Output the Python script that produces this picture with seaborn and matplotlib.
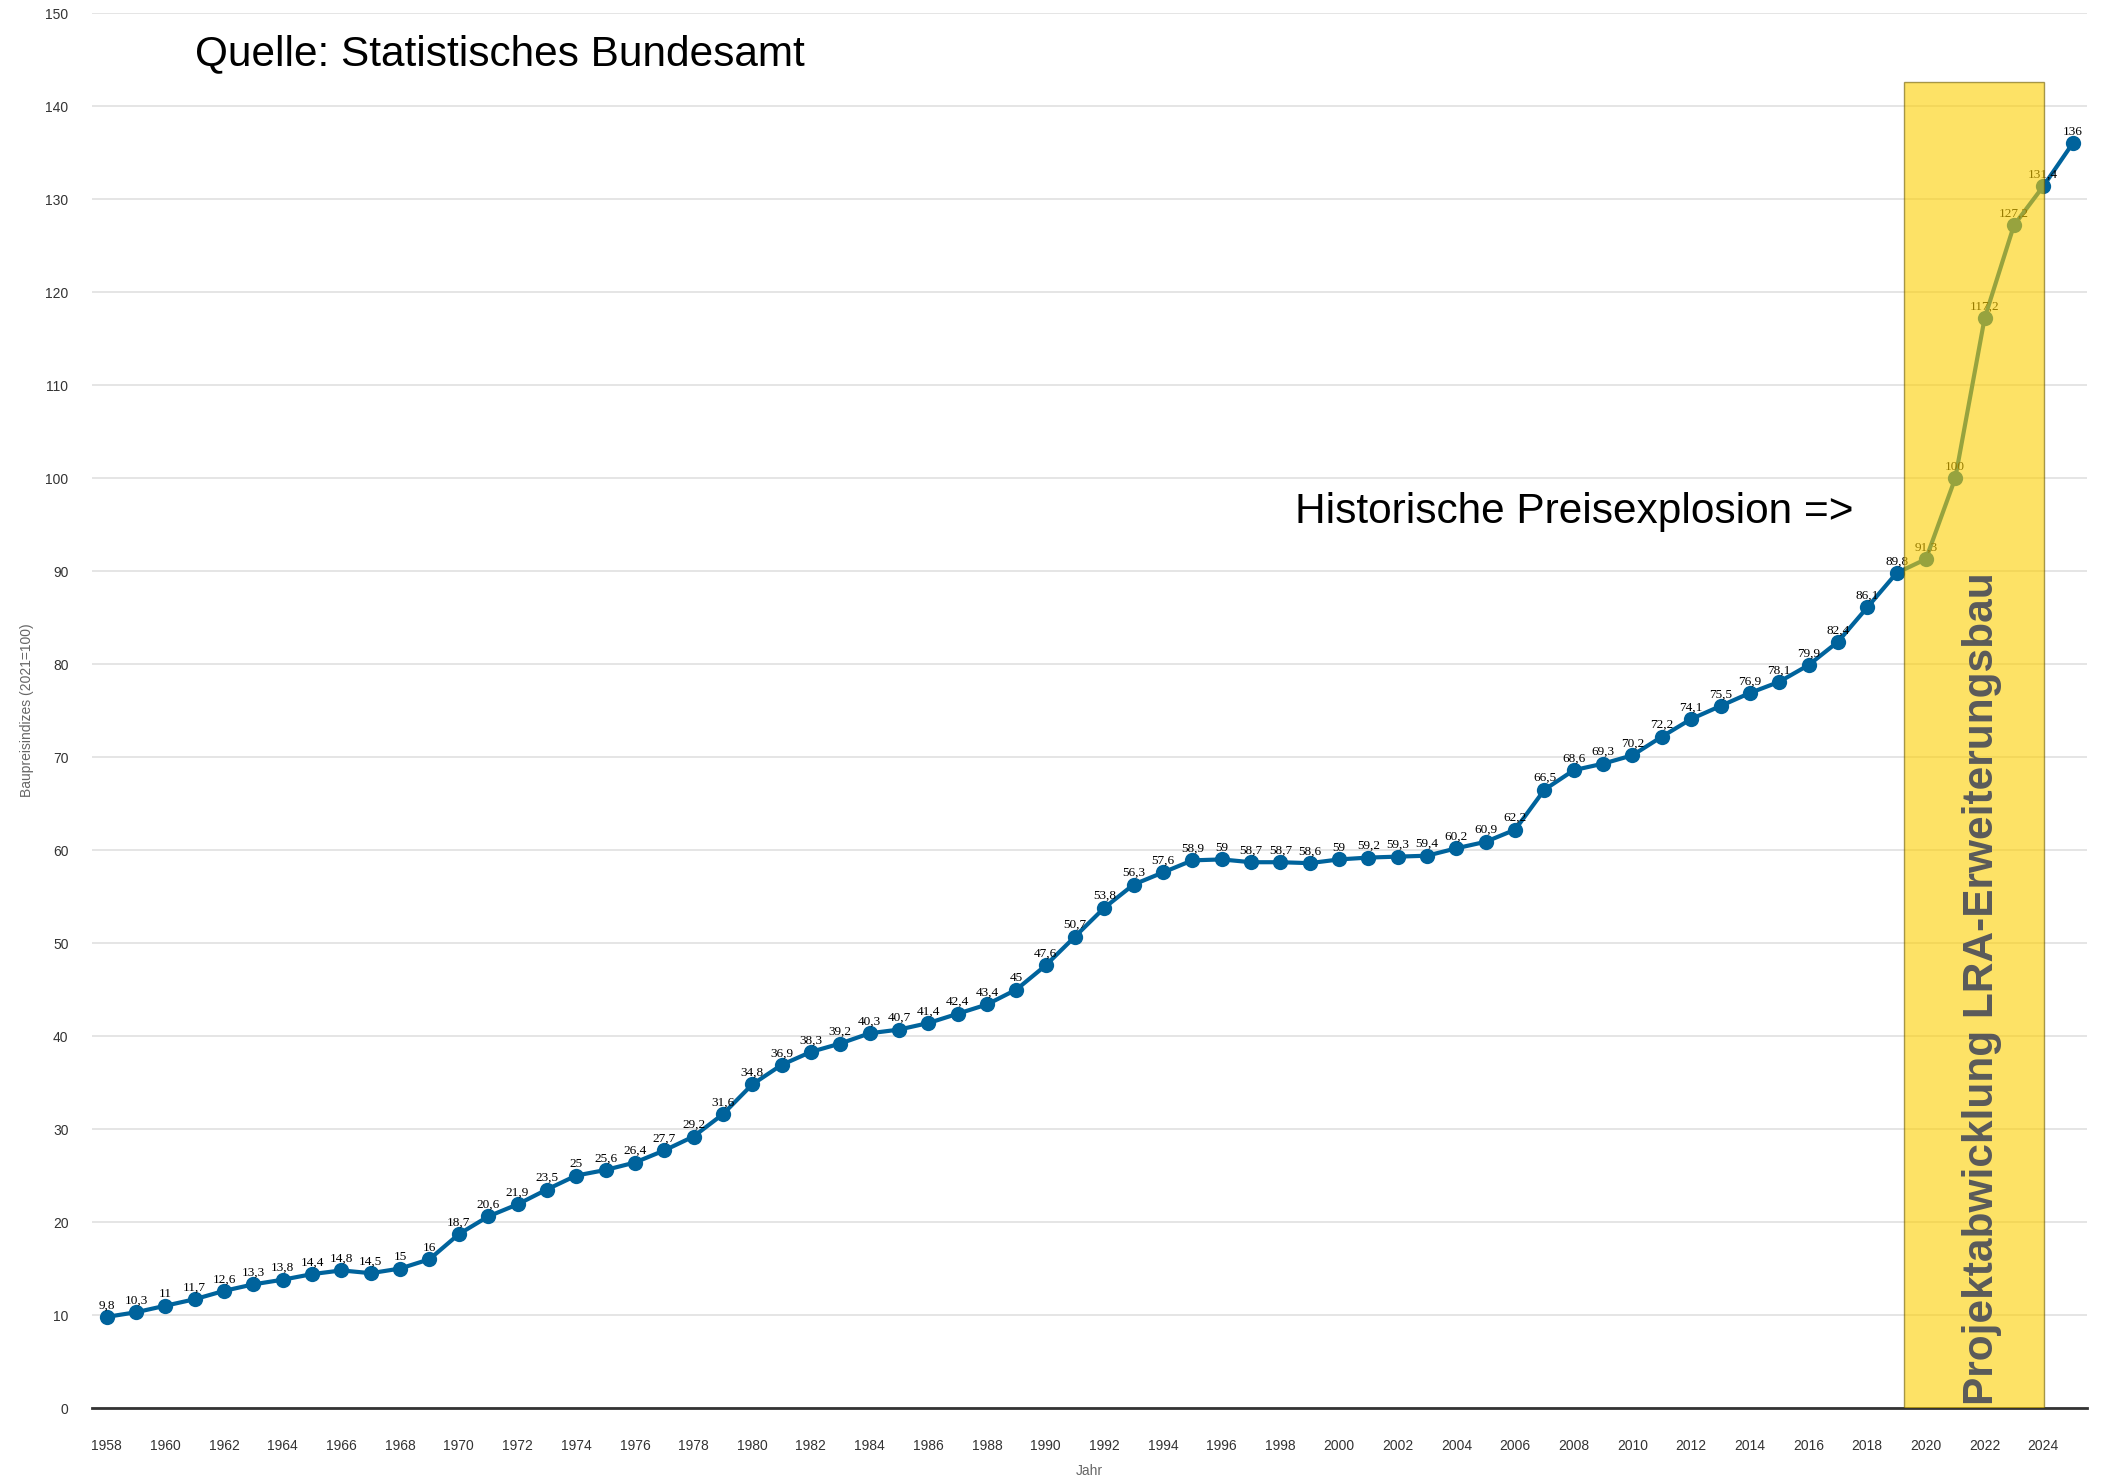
import matplotlib
matplotlib.use("Agg")
import matplotlib.pyplot as plt
import pandas as pd
import seaborn as sns

# Baupreisindizes, 2021 = 100
years = list(range(1958, 2026))
index_values = [
    9.8, 10.3, 11, 11.7, 12.6, 13.3, 13.8, 14.4, 14.8, 14.5, 15, 16,
    18.7, 20.6, 21.9, 23.5, 25, 25.6, 26.4, 27.7, 29.2, 31.6,
    34.8, 36.9, 38.3, 39.2, 40.3, 40.7, 41.4, 42.4, 43.4, 45,
    47.6, 50.7, 53.8, 56.3, 57.6, 58.9, 59, 58.7, 58.7, 58.6,
    59, 59.2, 59.3, 59.4, 60.2, 60.9, 62.2, 66.5, 68.6, 69.3,
    70.2, 72.2, 74.1, 75.5, 76.9, 78.1, 79.9, 82.4, 86.1, 89.8,
    91.3, 100, 117.2, 127.2, 131.4, 136,
]
x_ticks = list(range(1958, 2025, 2))
y_ticks = list(range(0, 151, 10))

# Zeitraum der Projektabwicklung (Markierung)
project_start = 2019.27
project_end = 2024.04
project_top = 142.6

df = pd.DataFrame({"Jahr": years, "Index": index_values})

sns.set_theme(style="white")
plt.rcParams["font.family"] = ["Liberation Sans", "DejaVu Sans"]

fig, ax = plt.subplots(figsize=(21.02, 14.79), dpi=100)
fig.subplots_adjust(left=0.0438, right=0.993, bottom=0.048, top=0.991)

sns.lineplot(
    data=df, x="Jahr", y="Index", ax=ax,
    color="#00639c", linewidth=3, marker="o", markersize=11,
    markeredgewidth=0, zorder=2,
)

# Datenbeschriftungen
for x, v in zip(years, index_values):
    ax.annotate(
        f"{v:g}".replace(".", ","), (x, v), xytext=(0, 4),
        textcoords="offset points", ha="center", va="bottom",
        fontsize=9.5, family=["Liberation Serif", "DejaVu Serif"],
        color="black", zorder=3,
    )

ax.axvspan(project_start, project_end, ymin=0, ymax=project_top / 150,
           facecolor="#fdcf00", alpha=0.6, edgecolor="#6b5a00",
           linewidth=1, zorder=4)
ax.text(2021.9, 0.3, "Projektabwicklung LRA-Erweiterungsbau", rotation=90,
        ha="center", va="bottom", fontsize=30.5, fontweight="bold",
        color="#5a5a5a", zorder=5)

ax.text(1961.0, 145.6, "Quelle: Statistisches Bundesamt", ha="left",
        va="center", fontsize=30.5, color="black")
ax.text(1998.5, 96.4, "Historische Preisexplosion =>", ha="left",
        va="center", fontsize=30.5, color="black")

ax.set_xlim(1957.5, 2025.5)
ax.set_ylim(0, 150)
ax.set_xticks(x_ticks)
ax.set_yticks(y_ticks)
ax.tick_params(axis="both", length=0, labelsize=10, labelcolor="#333333")
ax.tick_params(axis="x", pad=22)
ax.tick_params(axis="y", pad=17)
ax.yaxis.grid(True, color="#e3e3e3", linewidth=1.3)
ax.xaxis.grid(False)
ax.set_axisbelow(True)
for side in ["top", "right", "left"]:
    ax.spines[side].set_visible(False)
ax.spines["bottom"].set_color("#333333")
ax.spines["bottom"].set_linewidth(2)

ax.set_xlabel("Jahr", fontsize=10, color="#666666", labelpad=8)
ax.set_ylabel("Baupreisindizes (2021=100)", fontsize=10, color="#666666",
              labelpad=8)

plt.savefig("out.png", dpi=100)
